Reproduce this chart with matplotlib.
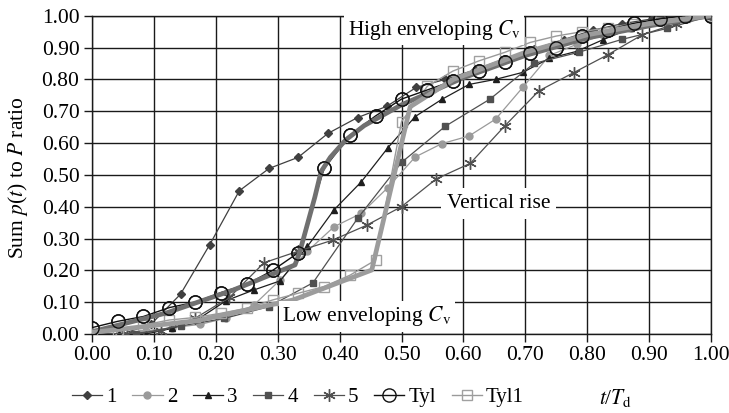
import matplotlib
matplotlib.use('Agg')
import matplotlib.pyplot as plt

plt.rcParams['font.family'] = ['Liberation Serif', 'DejaVu Serif']
plt.rcParams['mathtext.fontset'] = 'stix'

# ---- data (t/Td positions and cumulative ratios) ----
t21 = [0.000, 0.048, 0.095, 0.143, 0.190, 0.238, 0.286, 0.333, 0.381, 0.429, 0.476,
       0.524, 0.571, 0.619, 0.667, 0.714, 0.762, 0.810, 0.857, 0.905, 0.952, 1.000]
t23 = [0.000, 0.043, 0.087, 0.130, 0.174, 0.217, 0.261, 0.304, 0.348, 0.391, 0.435, 0.478,
       0.522, 0.565, 0.609, 0.652, 0.696, 0.739, 0.783, 0.826, 0.870, 0.913, 0.957, 1.000]
t18 = [0.000, 0.056, 0.111, 0.167, 0.222, 0.278, 0.333, 0.389, 0.444, 0.500,
       0.556, 0.611, 0.667, 0.722, 0.778, 0.833, 0.889, 0.944, 1.000]
t14 = [0.000, 0.071, 0.143, 0.214, 0.286, 0.357, 0.429, 0.500,
       0.571, 0.643, 0.714, 0.786, 0.857, 0.929, 1.000]
t24 = [0.000, 0.042, 0.083, 0.125, 0.167, 0.208, 0.250, 0.292, 0.333, 0.375, 0.417, 0.458,
       0.500, 0.542, 0.583, 0.625, 0.667, 0.708, 0.750, 0.792, 0.833, 0.875, 0.917, 0.958, 1.000]

s1 = [0.00, 0.00, 0.03, 0.125, 0.28, 0.45, 0.52, 0.555, 0.63, 0.68, 0.715,
      0.775, 0.80, 0.83, 0.865, 0.895, 0.925, 0.955, 0.975, 0.99, 1.00, 1.00]
s2 = [0.00, 0.00, 0.01, 0.02, 0.03, 0.05, 0.09, 0.17, 0.26, 0.337, 0.379, 0.46,
      0.556, 0.598, 0.622, 0.675, 0.775, 0.875, 0.91, 0.94, 0.96, 0.98, 0.99, 1.00]
s3 = [0.00, 0.00, 0.00, 0.018, 0.05, 0.105, 0.138, 0.167, 0.275, 0.39, 0.478, 0.585,
      0.683, 0.737, 0.784, 0.80, 0.822, 0.866, 0.888, 0.925, 0.96, 0.98, 0.99, 1.00]
s4 = [0.00, 0.00, 0.025, 0.049, 0.086, 0.161, 0.363, 0.539,
      0.653, 0.738, 0.85, 0.885, 0.926, 0.96, 1.00]
s5 = [0.00, 0.00, 0.01, 0.05, 0.115, 0.224, 0.26, 0.295, 0.342, 0.40,
      0.487, 0.536, 0.654, 0.764, 0.821, 0.877, 0.94, 0.975, 1.00]
tyl = [0.02, 0.04, 0.055, 0.083, 0.10, 0.13, 0.156, 0.20, 0.255, 0.52, 0.625, 0.685,
       0.738, 0.767, 0.795, 0.827, 0.855, 0.882, 0.90, 0.935, 0.955, 0.976, 0.99, 1.00, 1.00]
tyl1 = [0.00, 0.01, 0.028, 0.044, 0.052, 0.065, 0.081, 0.107, 0.128, 0.149, 0.185, 0.232,
        0.667, 0.779, 0.826, 0.858, 0.885, 0.916, 0.936, 0.95, 0.962, 0.975, 0.985, 0.995, 1.00]

# enveloping curves
hi_x = [0.00, 0.12, 0.228, 0.328, 0.336, 0.36, 0.37, 0.385, 0.41, 0.44, 0.50, 0.60, 0.70, 0.80, 0.90, 1.00]
hi_y = [0.007, 0.066, 0.138, 0.217, 0.26, 0.43, 0.51, 0.555, 0.61, 0.655, 0.72, 0.805, 0.875, 0.93, 0.968, 1.00]
lo_x = [0.00, 0.17, 0.325, 0.452, 0.514, 0.584, 0.70, 0.80, 0.90, 1.00]
lo_y = [0.005, 0.042, 0.107, 0.201, 0.714, 0.80, 0.885, 0.94, 0.975, 1.00]

xticks = [0.0, 0.1, 0.2, 0.3, 0.4, 0.5, 0.6, 0.7, 0.8, 0.9, 1.0]
yticks = [0.0, 0.1, 0.2, 0.3, 0.4, 0.5, 0.6, 0.7, 0.8, 0.9, 1.0]

FS = 15.5
fig = plt.figure(figsize=(7.29, 4.13), dpi=100)
ax = fig.add_axes([92/729, 1-334/413, 619/729, 318.3/413])

ax.plot(t21, s1, color='#404040', lw=0.9, marker='D', ms=4, mfc='#404040', mec='#404040', label='1', zorder=3)
ax.plot(t23, s2, color='#9a9a9a', lw=0.9, marker='o', ms=5, mfc='#9a9a9a', mec='#9a9a9a', label='2', zorder=3)
ax.plot(t23, s3, color='#1e1e1e', lw=0.9, marker='^', ms=5, mfc='#1e1e1e', mec='#1e1e1e', label='3', zorder=3)
ax.plot(t14, s4, color='#505050', lw=0.9, marker='s', ms=5, mfc='#505050', mec='#505050', label='4', zorder=3)
ax.plot(t18, s5, color='#505050', lw=0.9, marker=(6, 2, 0), ms=9, mec='#505050', mew=1.0, label='5', zorder=3)
ax.plot(t24, tyl1, color='#9a9a9a', lw=1.0, marker='s', ms=7.5, mfc='none', mec='#a0a0a0', mew=1.0, label='Tyl1', zorder=3)
ax.plot(t24, tyl, color='#111111', lw=1.0, marker='o', ms=9.5, mfc='none', mec='#111111', mew=1.0, label='Tyl', zorder=3)

ax.plot(hi_x, hi_y, color='#707070', lw=3.4, solid_joinstyle='round', solid_capstyle='round', zorder=4)
ax.plot(lo_x, lo_y, color='#9c9c9c', lw=3.4, solid_joinstyle='round', solid_capstyle='round', zorder=4)

# Tyl circles stay visible above the envelopes
ax.plot(t24, tyl, ls='none', marker='o', ms=9.5, mfc='none', mec='#111111', mew=1.0, zorder=5)

ax.set_xlim(0, 1)
ax.set_ylim(0, 1)
ax.set_xticks(xticks)
ax.set_yticks(yticks)
ax.set_xticklabels([f'{v:.2f}' for v in xticks], fontsize=FS)
ax.set_yticklabels([f'{v:.2f}' for v in yticks], fontsize=FS)
ax.tick_params(direction='out', length=6, width=1.0, color='#1a1a1a', pad=3)
ax.grid(True, color='#1a1a1a', lw=1.0)
ax.set_axisbelow(True)
for sp in ax.spines.values():
    sp.set_color('#1a1a1a')
    sp.set_linewidth(1.0)

fig.text(18/729, 1-178/413, 'Sum $p$($t$) to $P$ ratio', fontsize=FS, rotation=90,
         ha='center', va='center')
fig.text(616/729, 1-398/413, '$t$/$T_\\mathrm{d}$', fontsize=FS, ha='center', va='center')

bb = dict(facecolor='white', edgecolor='none', pad=2.5)
ax.text(0.553, 0.955, 'High enveloping $C_\\mathrm{v}$', fontsize=FS, ha='center', va='center', bbox=bb, zorder=6)
ax.text(0.657, 0.41, 'Vertical rise', fontsize=FS, ha='center', va='center', bbox=dict(facecolor='white', edgecolor='none', pad=4), zorder=6)
ax.text(0.444, 0.055, 'Low enveloping $C_\\mathrm{v}$', fontsize=FS, ha='center', va='center', bbox=bb, zorder=6)

handles, labels = ax.get_legend_handles_labels()
order = ['1', '2', '3', '4', '5', 'Tyl', 'Tyl1']
hmap = dict(zip(labels, handles))
fig.legend([hmap[k] for k in order], order, loc='center left', bbox_to_anchor=(72/729, 1-397/413),
           ncol=7, frameon=False, fontsize=15, handlelength=1.45, handletextpad=0.2,
           columnspacing=0.75, borderpad=0.0, borderaxespad=0.0)

fig.savefig('out.png', dpi=100)
